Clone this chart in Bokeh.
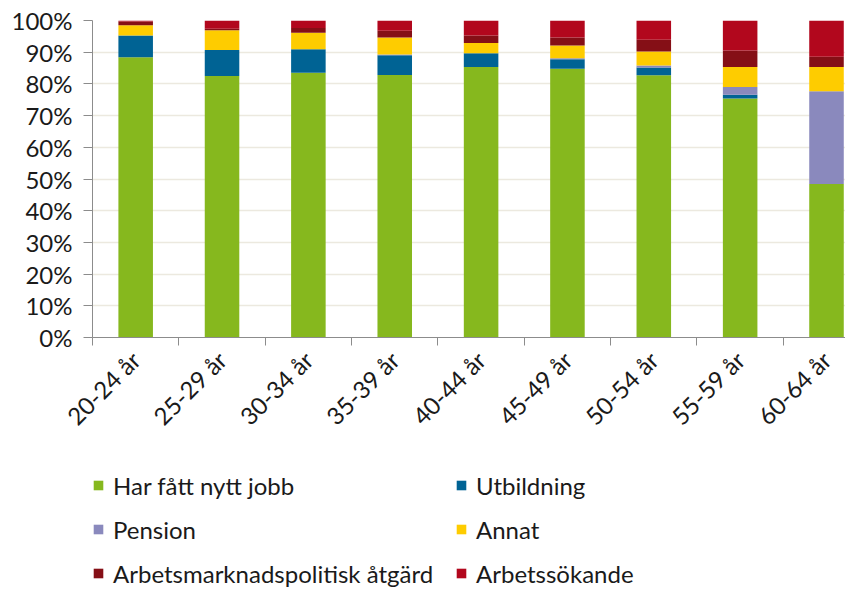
import math
from bokeh.plotting import figure
from bokeh.layouts import column
from bokeh.models import (Range1d, FixedTicker, CustomJSTickFormatter, NumeralTickFormatter,
                          Legend, LegendItem, ColumnDataSource)
from bokeh.embed import file_html
from bokeh.resources import INLINE

categories = ["20-24 år", "25-29 år", "30-34 år", "35-39 år", "40-44 år",
              "45-49 år", "50-54 år", "55-59 år", "60-64 år"]
jobb = [88.4, 82.5, 83.5, 82.8, 85.3, 84.8, 82.7, 75.4, 48.4]
utbildning = [6.9, 8.2, 7.4, 6.2, 4.4, 3.0, 2.5, 1.2, 0.0]
pension = [0.0, 0.0, 0.0, 0.3, 0.0, 0.3, 0.6, 2.4, 29.3]
annat = [3.2, 6.2, 5.2, 5.3, 3.2, 4.0, 4.4, 6.3, 7.6]
atgard = [1.2, 0.5, 1.5, 2.2, 2.4, 2.5, 3.7, 5.2, 3.3]
sokande = [0.3, 2.6, 2.4, 3.2, 4.7, 5.4, 6.1, 9.5, 11.4]

series_names = ["Har fått nytt jobb", "Utbildning", "Pension", "Annat",
                "Arbetsmarknadspolitisk åtgärd", "Arbetssökande"]
series_values = [jobb, utbildning, pension, annat, atgard, sokande]
colors = ["#86B81E", "#006394", "#8A89BD", "#FECC00", "#850F16", "#B2071D"]

FONT = "Lato"
FS = "24px"

centers = [i + 0.5 for i in range(len(categories))]
bounds = [float(i) for i in range(len(categories) + 1)]

data = {"x": centers}
keys = []
for k, vals in enumerate(series_values):
    key = f"s{k}"
    keys.append(key)
    data[key] = [v / 100.0 for v in vals]
source = ColumnDataSource(data)

p = figure(width=845, height=447, output_backend="svg", toolbar_location=None,
           x_range=Range1d(0, 8.72), y_range=Range1d(0, 1),
           min_border_left=92, min_border_right=0, min_border_top=20,
           min_border_bottom=110)
p.outline_line_color = None
p.background_fill_color = "white"

renderers = p.vbar_stack(keys, x="x", width=0.4, color=colors, line_color=None, source=source)

# y axis
p.yaxis.ticker = FixedTicker(ticks=[i / 10 for i in range(11)])
p.yaxis.formatter = NumeralTickFormatter(format="0%")
p.yaxis.major_label_text_font = FONT
p.yaxis.major_label_text_font_size = FS
p.yaxis.major_label_text_color = "#1a1a1a"
p.yaxis.axis_line_color = "#8c8c8c"
p.yaxis.major_tick_line_color = "#8c8c8c"
p.yaxis.major_tick_out = 9
p.yaxis.major_tick_in = 0
p.yaxis.minor_tick_line_color = None
p.yaxis.major_label_standoff = 11

# x axis
p.xaxis.ticker = FixedTicker(ticks=centers, minor_ticks=bounds)
p.xaxis.formatter = CustomJSTickFormatter(args=dict(labels=categories),
                                          code="const i = Math.round(tick - 0.5); return labels[i] || '';")
p.xaxis.major_label_orientation = math.pi / 4
p.xaxis.major_label_text_font = FONT
p.xaxis.major_label_text_font_size = FS
p.xaxis.major_label_text_color = "#1a1a1a"
p.xaxis.axis_line_color = "#8c8c8c"
p.xaxis.major_tick_line_color = None
p.xaxis.minor_tick_line_color = "#8c8c8c"
p.xaxis.minor_tick_out = 8
p.xaxis.minor_tick_in = 0
p.xaxis.major_label_standoff = 10

p.xgrid.grid_line_color = None
p.ygrid.grid_line_color = "#ECE9DF"
p.ygrid.grid_line_width = 1.5

# legend in its own strip below the chart (frames are aligned with the chart)
LH = 142
lf = figure(width=845, height=LH, output_backend="svg", toolbar_location=None,
            x_axis_type=None, y_axis_type=None, x_range=Range1d(0, 1), y_range=Range1d(0, 1),
            min_border_left=0, min_border_right=0, min_border_top=0, min_border_bottom=0)
lf.outline_line_color = None
lf.grid.grid_line_color = None
swatches = lf.vbar_stack(keys, x="x", width=0.4, color=colors, line_color=None, source=source)
for r in swatches:
    r.visible = False
items = [LegendItem(label=n, renderers=[r]) for n, r in zip(series_names, swatches)]
legend = Legend(items=items, orientation="horizontal", ncols=2, location=(0, 0),
                label_text_font=FONT, label_text_font_size=FS, label_text_color="#1a1a1a",
                glyph_width=12, glyph_height=12, label_standoff=9, label_height=32,
                label_width=330, spacing=12, padding=0, margin=0, border_line_color=None,
                background_fill_alpha=0)
lf.add_layout(legend, "center")

layout = column(p, lf, spacing=0)
open("out.html", "w").write(file_html(layout, INLINE))
